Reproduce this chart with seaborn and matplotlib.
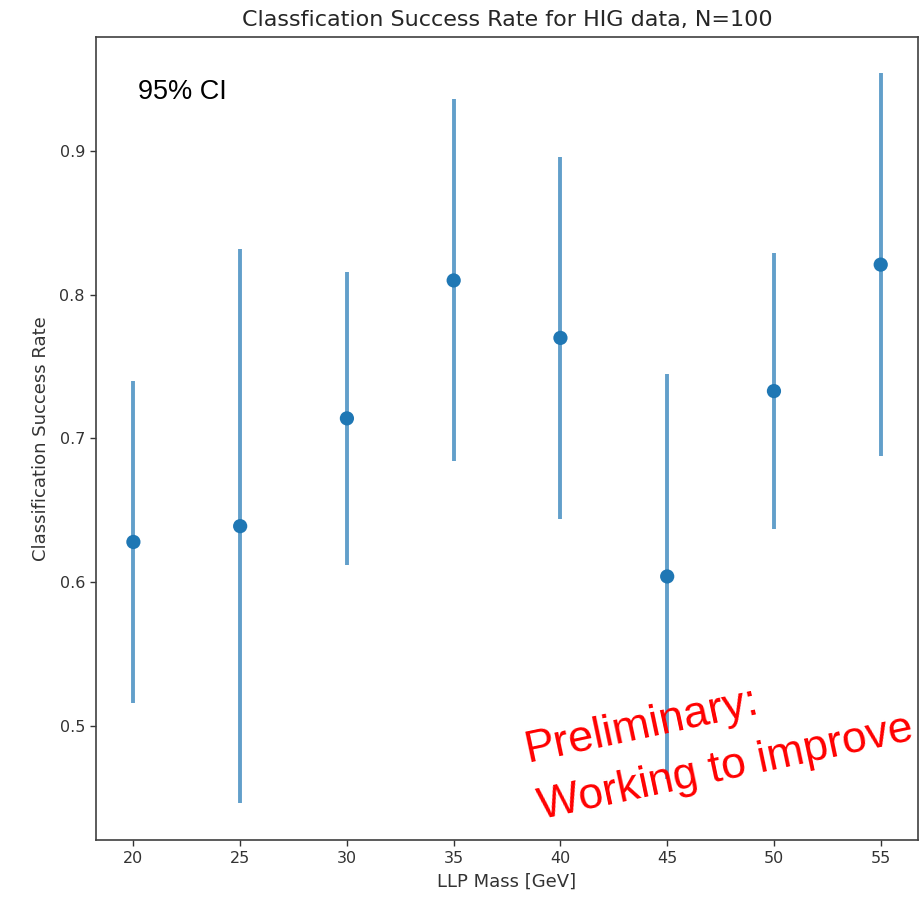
import matplotlib
matplotlib.use("Agg")
import matplotlib.pyplot as plt
import seaborn as sns
import pandas as pd
import numpy as np

# LLP mass points and the classification success rate with its 95% CI half-width
masses = [20, 25, 30, 35, 40, 45, 50, 55]
success_rate = [0.628, 0.639, 0.714, 0.810, 0.770, 0.604, 0.733, 0.821]
ci_halfwidth = [0.112, 0.193, 0.102, 0.126, 0.126, 0.141, 0.096, 0.133]

df = pd.DataFrame({"mass": masses, "rate": success_rate, "ci": ci_halfwidth})

sns.set_style("ticks")
plt.rcParams["font.family"] = ["DejaVu Sans"]

fig = plt.figure(figsize=(9.19, 8.98), dpi=100)
ax = fig.add_axes([0.1045, 0.0646, 0.8945, 0.8942])

blue = "#1f77b4"
ax.errorbar(df["mass"], df["rate"], yerr=df["ci"], fmt="none",
            ecolor=blue, alpha=0.7, elinewidth=2.8, zorder=1)
sns.scatterplot(data=df, x="mass", y="rate", ax=ax, color=blue, s=105,
                edgecolor="none", linewidth=0, zorder=2)

ax.set_xticks([20, 25, 30, 35, 40, 45, 50, 55])
ax.set_yticks([0.5, 0.6, 0.7, 0.8, 0.9])
ax.set_yticklabels(["0.5", "0.6", "0.7", "0.8", "0.9"])
ax.tick_params(labelsize=11.5, length=4.5, width=1.0, colors=".2")
for sp in ax.spines.values():
    sp.set_linewidth(1.2)
    sp.set_color(".25")

ax.set_xlabel("LLP Mass [GeV]", fontsize=13, color=".2", labelpad=5)
ax.set_ylabel("Classification Success Rate", fontsize=13, color=".2", labelpad=7)
ax.set_title("Classfication Success Rate for HIG data, N=100", fontsize=16,
             color=".15", pad=8)

ax.text(0.051, 0.931, "95% CI", transform=ax.transAxes, fontsize=19.5,
        family="Liberation Sans", color="black", ha="left", va="center")

# Overlay note
fig.text(527 / 919, 1 - 762 / 898, "Preliminary:", fontsize=32.5,
         family="Liberation Sans", color="#ff0000", rotation=12,
         rotation_mode="anchor", ha="left", va="baseline")
fig.text(541 / 919, 1 - 819 / 898, "Working to improve", fontsize=32,
         family="Liberation Sans", color="#ff0000", rotation=12,
         rotation_mode="anchor", ha="left", va="baseline")

fig.savefig("out.png", dpi=100)
